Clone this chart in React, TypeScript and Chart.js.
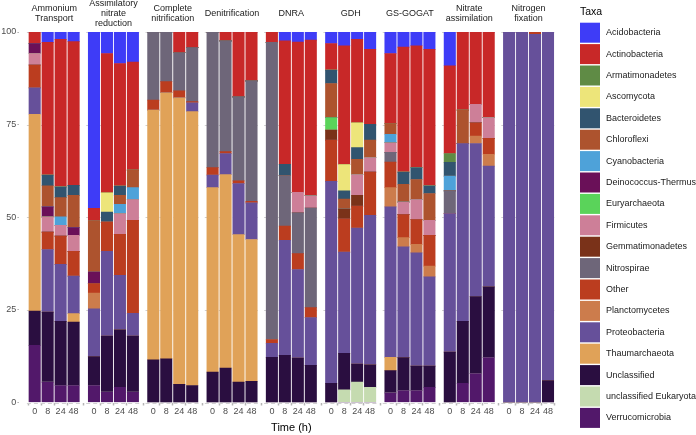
import React, { useEffect, useRef } from "react";
import { Chart, registerables } from "chart.js";

Chart.register(...registerables);

// ---------- data ----------
const facets: string[][] = [
  ["Ammonium", "Transport"],
  ["Assimilatory", "nitrate", "reduction"],
  ["Complete", "nitrification"],
  ["Denitrification"],
  ["DNRA"],
  ["GDH"],
  ["GS-GOGAT"],
  ["Nitrate", "assimilation"],
  ["Nitrogen", "fixation"],
];
const times = ["0", "8", "24", "48"];
const yTicks = [0, 25, 50, 75, 100];
const xTitle = "Time (h)";
const legendTitle = "Taxa";

const taxa = [
  "Acidobacteria",
  "Actinobacteria",
  "Armatimonadetes",
  "Ascomycota",
  "Bacteroidetes",
  "Chloroflexi",
  "Cyanobacteria",
  "Deinococcus-Thermus",
  "Euryarchaeota",
  "Firmicutes",
  "Gemmatimonadetes",
  "Nitrospirae",
  "Other",
  "Planctomycetes",
  "Proteobacteria",
  "Thaumarchaeota",
  "Unclassified",
  "unclassified Eukaryota",
  "Verrucomicrobia",
];
const taxaColors = [
  "#3e3cf7",
  "#c82828",
  "#5f8b45",
  "#ede57a",
  "#31546f",
  "#ad532e",
  "#4ea2d9",
  "#6a1058",
  "#5ad35a",
  "#cd7f98",
  "#7a3219",
  "#6e6679",
  "#bb3d1f",
  "#cc7c4c",
  "#66509a",
  "#e0a258",
  "#2a0e40",
  "#c5dbb0",
  "#52186a",
];

// values per taxon: 9 facets x 4 times (0, 8, 24, 48)
//                         AmmTr                 AssNR                  CompN                DeNit                  DNRA                   GDH                    GSGOG                  NitAs                  NFix
const acidobacteria =     [0, 2.8, 2.0, 2.6,     47.6, 5.8, 8.5, 8.1,   0, 0, 0, 0,          0, 0, 0, 0,            0, 2.4, 2.7, 2.2,      3.1, 3.7, 2.0, 4.7,    5.8, 4.1, 3.7, 4.7,    9.1, 0, 0, 0,          0, 0, 0, 0];
const actinobacteria =    [3.1, 35.8, 39.8, 38.8, 3.4, 37.6, 33.1, 29.2, 0, 0, 5.6, 4.2,      0, 2.4, 17.5, 13.2,    2.8, 33.3, 40.6, 42.0, 7.2, 32.1, 22.5, 20.2, 18.9, 33.7, 32.9, 36.8, 23.7, 21.1, 19.5, 23.1, 0, 0, 0, 0];
const armatimonadetes =   [0, 0, 0, 0,           0, 0, 0, 0,            0, 0, 0, 0,          0, 0, 0, 0,            0, 0, 0, 0,            0, 0, 0, 0,            0, 0, 0, 0,            2.4, 0, 0, 0,          0, 0, 0, 0];
const ascomycota =        [0, 0, 0, 0,           0, 5.2, 0, 0,          0, 0, 0, 0,          0, 0, 0, 0,            0, 0, 0, 0,            0, 7.1, 6.7, 0,        0, 0, 0, 0,            0, 0, 0, 0,            0, 0, 0, 0];
const bacteroidetes =     [0, 2.9, 2.9, 2.7,     0, 2.7, 2.5, 0,        0, 0, 0, 0,          0, 0, 0, 0,            0, 3.1, 0, 0,          3.6, 2.2, 3.2, 4.3,    0, 3.3, 3.2, 2.1,      3.7, 0, 0, 0,          0, 0, 0, 0];
const chloroflexi =       [0, 5.7, 5.2, 8.7,     13.8, 0, 2.4, 4.7,     0, 0, 0, 0,          0, 0, 0, 0,            0, 0, 0, 0,            9.2, 2.7, 4.1, 4.7,    2.9, 4.8, 5.4, 7.2,    0, 9.0, 0, 0,          0, 0, 0, 0];
const cyanobacteria =     [0, 0, 2.3, 0,         0, 0, 2.5, 3.2,        0, 0, 0, 0,          0, 0, 0, 0,            0, 0, 0, 0,            0, 0, 0, 0,            2.3, 0, 0, 0,          4.0, 0, 0, 0,          0, 0, 0, 0];
const deinococcus =       [2.7, 2.7, 0, 2.1,     3.1, 0, 0, 0,          0, 0, 0, 0,          0, 0, 0, 0,            0, 0, 0, 0,            0, 0, 0, 0,            0, 0, 0, 0,            0, 0, 0, 0,            0, 0, 0, 0];
const euryarchaeota =     [0, 0, 0, 0,           0, 0, 0, 0,            0, 0, 0, 0,          0, 0, 0, 0,            0, 0, 0, 0,            3.4, 0, 0, 0,          0, 0, 0, 0,            0, 0, 0, 0,            0, 0, 0, 0];
const firmicutes =        [3.1, 4.1, 2.9, 4.3,   0, 0, 5.6, 5.6,        0, 0, 0, 0,          0, 0, 0, 0,            0, 0, 5.5, 3.3,        0, 0, 5.6, 3.9,        2.6, 3.4, 5.4, 4.1,    0, 0, 5.0, 5.6,        0, 0, 0, 0];
const gemmatimonadetes =  [0, 0, 0, 0,           0, 0, 0, 0,            0, 0, 0, 0,          0, 0, 0, 0,            0, 0, 0, 0,            2.7, 2.6, 2.9, 0,      0, 0, 0, 0,            0, 0, 0, 0,            0, 0, 0, 0];
const nitrospirae =       [0, 0, 0, 0,           0, 0, 0, 0,            18.4, 13.4, 10.3, 14.6, 36.6, 29.9, 22.7, 32.5, 80.2, 13.6, 11.0, 26.9, 0, 0, 0, 0,         2.6, 0, 0, 0,          6.1, 0, 0, 0,          0, 0, 0, 0];
const other =             [6.2, 4.7, 7.6, 6.7,   2.6, 7.9, 11.1, 25.1,  2.7, 3.0, 1.9, 0.3,  2.0, 0.5, 0.7, 0.4,    1.0, 3.8, 4.3, 2.7,    11.1, 9.0, 5.9, 11.7,  6.9, 6.2, 6.7, 8.3,    0, 0, 3.6, 4.3,        0, 0, 0.6, 0];
const planctomycetes =    [0, 0, 0, 0,           4.2, 0, 0, 0,          0, 0, 0, 0,          0, 0, 0, 0,            0, 0, 0, 0,            0, 0, 0, 0,            5.2, 2.5, 2.3, 2.9,    0, 0, 2.0, 3.2,        0, 0, 0, 0];
const proteobacteria =    [7.1, 16.9, 15.4, 10.1, 12.9, 22.9, 14.7, 6.2, 0, 0, 0, 2.4,      3.4, 5.7, 13.8, 9.9,   3.8, 31.1, 23.9, 12.9, 54.5, 27.3, 36.7, 40.3, 40.6, 29.9, 30.6, 24.1, 37.4, 48.0, 41.3, 32.6, 100, 100, 99.4, 94.1];
const thaumarchaeota =    [53.1, 0, 0, 2.3,      0, 0, 0, 0,            67.4, 71.8, 77.3, 73.9, 49.8, 52.2, 39.8, 38.3, 0, 0, 0, 0,         0, 0, 0, 0,            3.6, 0, 0, 0,          0, 0, 0, 0,            0, 0, 0, 0];
const unclassified =      [9.3, 18.9, 17.3, 17.1, 7.8, 15.1, 15.5, 15.1, 11.5, 11.8, 4.9, 4.6, 8.2, 9.3, 5.5, 5.7,   12.2, 12.7, 12.0, 10.0, 5.2, 9.9, 4.9, 6.1,    6.0, 8.9, 6.6, 5.7,    13.6, 16.7, 20.8, 19.1, 0, 0, 0, 5.9];
const unclEukaryota =     [0, 0, 0, 0,           0, 0, 0, 0,            0, 0, 0, 0,          0, 0, 0, 0,            0, 0, 0, 0,            0, 3.4, 5.5, 4.1,      0, 0, 0, 0,            0, 0, 0, 0,            0, 0, 0, 0];
const verrucomicrobia =   [15.4, 5.5, 4.6, 4.6,  4.6, 2.8, 4.1, 2.8,    0, 0, 0, 0,          0, 0, 0, 0,            0, 0, 0, 0,            0, 0, 0, 0,            2.6, 3.2, 3.2, 4.1,    0, 5.2, 7.8, 12.1,     0, 0, 0, 0];

const taxaValues = [
  acidobacteria, actinobacteria, armatimonadetes, ascomycota, bacteroidetes,
  chloroflexi, cyanobacteria, deinococcus, euryarchaeota, firmicutes,
  gemmatimonadetes, nitrospirae, other, planctomycetes, proteobacteria,
  thaumarchaeota, unclassified, unclEukaryota, verrucomicrobia,
];

// ---------- layout ----------
const W = 696;
const H = 435;
const FACET_STEP = 4.572; // distance between facets in bar units
const PANEL_PAD = 0.6;
const AREA_LEFT = 19.35;
const AREA_RIGHT = 563.35;
const AREA_TOP = 32;
const AREA_BOTTOM = 402.5;
const FONT = "'Liberation Sans', Arial, Helvetica, sans-serif";

const positions = facets.flatMap((_, f) => times.map((_, j) => f * FACET_STEP + j));

const decorPlugin = {
  id: "facetDecor",
  beforeDatasetsDraw(chart: any) {
    const { ctx } = chart;
    const xs = chart.scales.x;
    const ys = chart.scales.y;
    ctx.save();
    ctx.strokeStyle = "#cfcfcf";
    ctx.lineWidth = 1;
    ctx.setLineDash([4, 3]);
    facets.forEach((_, f) => {
      const l = xs.getPixelForValue(f * FACET_STEP - PANEL_PAD);
      const r = xs.getPixelForValue(f * FACET_STEP + 3 + PANEL_PAD);
      yTicks.forEach((t) => {
        const y = Math.round(ys.getPixelForValue(t)) + 0.5;
        ctx.beginPath();
        ctx.moveTo(l, y);
        ctx.lineTo(r, y);
        ctx.stroke();
      });
    });
    ctx.restore();
  },
  afterDraw(chart: any) {
    const { ctx } = chart;
    const xs = chart.scales.x;
    ctx.save();
    // facet strip titles
    ctx.fillStyle = "#1a1a1a";
    ctx.font = `9px ${FONT}`;
    ctx.textAlign = "center";
    ctx.textBaseline = "middle";
    facets.forEach((lines, f) => {
      const cx = xs.getPixelForValue(f * FACET_STEP + 1.5);
      lines.forEach((line, i) => {
        const y = 13.8 + (i - (lines.length - 1) / 2) * 10.2;
        ctx.fillText(line, cx, y);
      });
    });
    // legend
    ctx.textAlign = "left";
    ctx.font = `10.5px ${FONT}`;
    ctx.fillStyle = "#000";
    ctx.fillText(legendTitle, 580, 12);
    ctx.font = `9px ${FONT}`;
    taxa.forEach((name, i) => {
      const top = 22.7 + i * 21.4;
      ctx.fillStyle = taxaColors[i];
      ctx.fillRect(580, top, 20, 20);
      ctx.fillStyle = "#1a1a1a";
      ctx.fillText(name, 606, top + 10);
    });
    ctx.restore();
  },
};

export default function App() {
  const ref = useRef<HTMLCanvasElement | null>(null);

  useEffect(() => {
    document.body.style.margin = "0";
    Chart.defaults.font.family = FONT;
    const canvas = ref.current;
    if (!canvas) return;

    const datasets = taxa
      .map((name, k) => ({
        label: name,
        data: positions.map((x, i) => ({ x, y: taxaValues[k][i] })),
        backgroundColor: taxaColors[k],
        borderWidth: 0,
        barThickness: 11.4,
      }))
      .reverse();

    const chart = new Chart(canvas, {
      type: "bar",
      data: { datasets },
      options: {
        responsive: false,
        animation: false,
        devicePixelRatio: 1,
        layout: {
          padding: { top: AREA_TOP, right: W - AREA_RIGHT, left: 0, bottom: 0 },
        },
        plugins: {
          legend: { display: false },
          tooltip: { enabled: false },
        },
        scales: {
          x: {
            type: "linear",
            stacked: true,
            min: -PANEL_PAD,
            max: (facets.length - 1) * FACET_STEP + 3 + PANEL_PAD,
            afterBuildTicks: (s: any) => {
              s.ticks = positions.map((v) => ({ value: v }));
            },
            afterFit: (s: any) => {
              s.height = H - AREA_BOTTOM;
            },
            ticks: {
              autoSkip: false,
              maxRotation: 0,
              padding: 1,
              color: "#4d4d4d",
              font: { size: 9 },
              callback: (_v: any, i: number) => times[i % times.length],
            },
            grid: {
              drawOnChartArea: false,
              drawTicks: true,
              tickLength: 3,
              tickWidth: 1.5,
              color: "#b5b5b5",
            },
            border: { display: false },
            title: {
              display: true,
              text: xTitle,
              color: "#000",
              font: { size: 11 },
              padding: { top: 2, bottom: 0 },
            },
          },
          y: {
            stacked: true,
            min: 0,
            max: 100,
            afterFit: (s: any) => {
              s.width = AREA_LEFT;
            },
            afterBuildTicks: (s: any) => {
              s.ticks = yTicks.map((v) => ({ value: v }));
            },
            ticks: {
              padding: 1,
              color: "#4d4d4d",
              font: { size: 9 },
            },
            grid: {
              drawOnChartArea: false,
              drawTicks: true,
              tickLength: 2,
              color: "#b5b5b5",
            },
            border: { display: false },
          },
        },
      } as any,
      plugins: [decorPlugin],
    });

    return () => chart.destroy();
  }, []);

  return <canvas ref={ref} width={W} height={H} style={{ display: "block" }} />;
}
